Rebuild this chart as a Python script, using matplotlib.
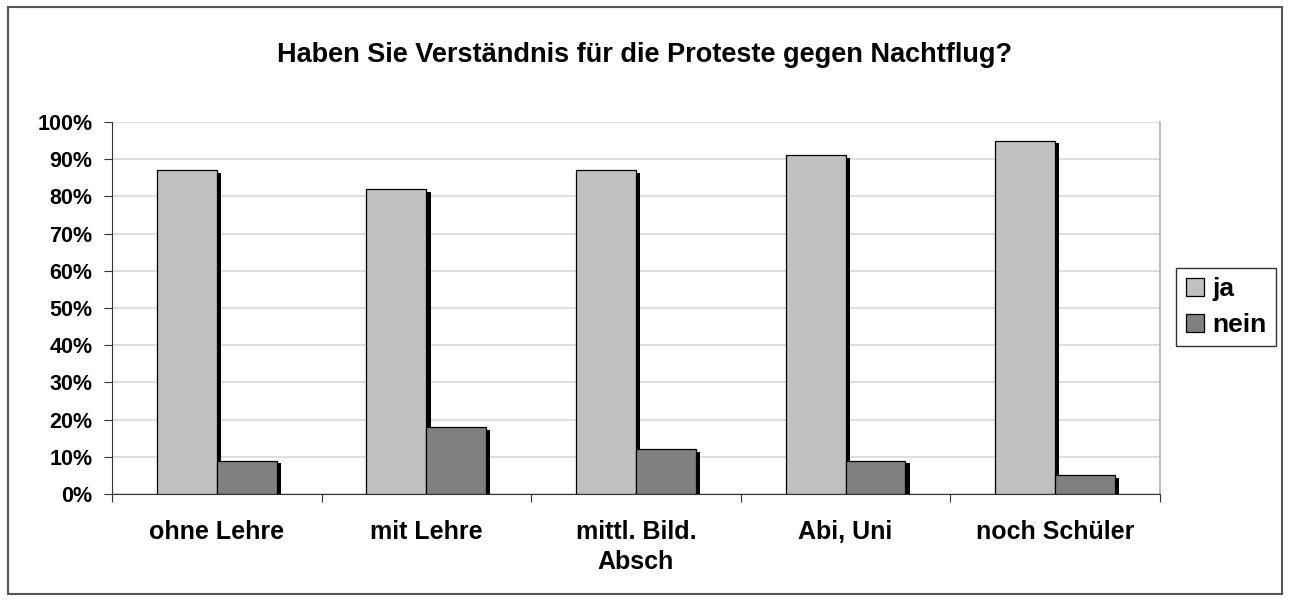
import numpy as np
import matplotlib
matplotlib.use('Agg')
import matplotlib.pyplot as plt
import matplotlib.patheffects as pe
from matplotlib.patches import Rectangle

categories = ['ohne Lehre', 'mit Lehre', 'mittl. Bild.\nAbsch', 'Abi, Uni', 'noch Schüler']
ja = [87, 82, 87, 91, 95]
nein = [9, 18, 12, 9, 5]
yticks = [0, 10, 20, 30, 40, 50, 60, 70, 80, 90, 100]

plt.rcParams['font.family'] = ['Liberation Sans', 'DejaVu Sans']
plt.rcParams['font.weight'] = 'bold'

fig = plt.figure(figsize=(12.9, 6), dpi=100)
ax = fig.add_axes([0.0868, 0.1767, 0.8124, 0.62])

x = np.arange(len(categories))
w = 0.2857
shadow = [pe.SimplePatchShadow(offset=(3.0, -2.0), shadow_rgbFace='black', alpha=1.0), pe.Normal()]
b1 = ax.bar(x - w / 2, ja, w, color='#c0c0c0', edgecolor='black', linewidth=0.9, label='ja', zorder=3)
b2 = ax.bar(x + w / 2, nein, w, color='#808080', edgecolor='black', linewidth=0.9, label='nein', zorder=3)
for b in list(b1) + list(b2):
    b.set_path_effects(shadow)

ax.set_xlim(-0.5, len(categories) - 0.5)
ax.set_ylim(0, 100)
ax.set_yticks(yticks)
ax.set_yticklabels([f'{t}%' for t in yticks], fontsize=15.5, fontweight='bold')
ax.yaxis.grid(True, color='#d8d8d8', linewidth=1.2, zorder=0)
ax.set_axisbelow(True)

ax.set_xticks(np.arange(len(categories) + 1) - 0.5)
ax.set_xticklabels([])
ax.set_xticks(x, minor=True)
ax.set_xticklabels(categories, minor=True, fontsize=18, fontweight='bold', linespacing=1.3)
ax.tick_params(axis='x', which='minor', length=0, pad=19)
ax.tick_params(axis='x', which='major', length=6, color='#333333', direction='out')
ax.tick_params(axis='y', length=6, color='#333333', direction='out', pad=8)

ax.spines['right'].set_color('#b0b0b0')
ax.spines['right'].set_linewidth(1.2)
ax.spines['top'].set_visible(False)
ax.spines['left'].set_color('#333333')
ax.spines['bottom'].set_color('#333333')

fig.text(0.5, 0.908, 'Haben Sie Verständnis für die Proteste gegen Nachtflug?',
         ha='center', va='center', fontsize=19.5, fontweight='bold')

leg = fig.legend(handles=[b1, b2], labels=['ja', 'nein'], loc='center left',
                 bbox_to_anchor=(0.912, 0.488), fontsize=19, frameon=True,
                 fancybox=False, edgecolor='black', handlelength=0.7, handleheight=0.7,
                 handletextpad=0.3, labelspacing=0.45, borderpad=0.35, borderaxespad=0)
leg.get_frame().set_linewidth(1.0)
for h in leg.legend_handles:
    h.set_path_effects([])

fig.patches.append(Rectangle((0.006, 0.01), 0.988, 0.978, transform=fig.transFigure,
                             fill=False, edgecolor='#555555', linewidth=1.5))

fig.savefig('out.png', dpi=100)
